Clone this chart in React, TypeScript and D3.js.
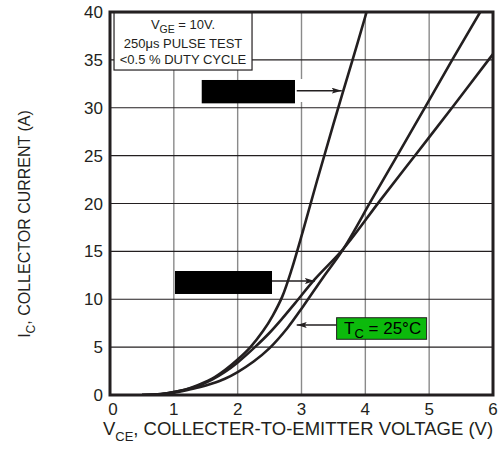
import React from "react";
import * as d3 from "d3";

const W = 503;
const H = 449;

// Vce (V) vs Ic (A) for three curves
const steepV = [0.5, 0.8, 1.0, 1.2, 1.4, 1.6, 1.8, 2.0, 2.2, 2.4, 2.55, 2.7, 2.85, 3.03, 3.24, 3.5, 3.8, 4.02];
const steepI = [0, 0.1, 0.3, 0.6, 1.1, 1.7, 2.6, 3.7, 5.0, 6.7, 8.3, 10.3, 13.2, 17.3, 22.3, 28.3, 35, 40];

const midV = [0.5, 0.8, 1.0, 1.2, 1.4, 1.6, 1.8, 2.0, 2.27, 2.5, 2.7, 2.9, 3.21, 3.66, 4.23, 4.8, 5.37, 5.93, 6.0];
const midI = [0, 0.1, 0.3, 0.6, 1.0, 1.6, 2.4, 3.4, 5.0, 6.5, 8.0, 9.6, 12.1, 15.3, 20.3, 25.2, 30.1, 35.0, 35.6];

const t25V = [0.5, 0.8, 1.0, 1.2, 1.4, 1.6, 1.8, 2.0, 2.25, 2.5, 2.78, 3.03, 3.33, 3.66, 4.1, 4.5, 4.94, 5.37, 5.8];
const t25I = [0, 0.08, 0.25, 0.5, 0.8, 1.2, 1.7, 2.4, 3.5, 4.9, 7.0, 9.3, 12.2, 15.3, 20.4, 25.0, 30.1, 35.1, 40.0];

const xTicks = [0, 1, 2, 3, 4, 5, 6];
const yTicks = [0, 5, 10, 15, 20, 25, 30, 35, 40];

const FONT = "'Liberation Sans', Arial, Helvetica, sans-serif";

export default function App() {
  const x = d3.scaleLinear().domain([0, 6]).range([110, 493]);
  const y = d3.scaleLinear().domain([0, 40]).range([395, 12]);

  const line = d3
    .line<[number, number]>()
    .x((d) => x(d[0]))
    .y((d) => y(d[1]))
    .curve(d3.curveCatmullRom.alpha(0.5));

  const zip = (a: number[], b: number[]) => a.map((v, i) => [v, b[i]] as [number, number]);
  const curves = [zip(steepV, steepI), zip(midV, midI), zip(t25V, t25I)];

  const ink = "#231f20";
  const bx0 = x(0.063);
  const bx1 = x(2.225);

  return (
    <svg
      width={W}
      height={H}
      style={{ position: "absolute", left: 0, top: 0, background: "#fff" }}
      fontFamily={FONT}
    >
      <defs>
        <marker id="arr" viewBox="0 0 10 6" refX="10" refY="3" markerWidth="10" markerHeight="6" markerUnits="userSpaceOnUse" orient="auto">
          <path d="M0,0 L10,3 L0,6 L2,3 Z" fill={ink} />
        </marker>
        <clipPath id="plot">
          <rect x={x(0)} y={y(40)} width={x(6) - x(0)} height={y(0) - y(40)} />
        </clipPath>
      </defs>

      {/* grid */}
      {xTicks.map((t) => (
        <line key={"gx" + t} x1={x(t)} x2={x(t)} y1={y(0)} y2={y(40)} stroke="#8a8a8a" strokeWidth={1.4} />
      ))}
      {yTicks.map((t) => (
        <line key={"gy" + t} x1={x(0)} x2={x(6)} y1={y(t)} y2={y(t)} stroke={ink} strokeWidth={1.1} />
      ))}

      {/* white gap behind arrow on gridline */}
      <rect x={x(2.93)} y={y(33.0)} width={9} height={y(30.6) - y(33.0)} fill="#fff" />

      {/* curves */}
      <g clipPath="url(#plot)">
        {curves.map((c, i) => (
          <path key={i} d={line(c) || ""} fill="none" stroke={ink} strokeWidth={2.6} strokeLinejoin="round" />
        ))}
      </g>

      {/* frame */}
      <rect x={x(0)} y={y(40)} width={x(6) - x(0)} height={y(0) - y(40)} fill="none" stroke={ink} strokeWidth={3} />

      {/* condition box */}
      <rect x={bx0} y={y(39.9)} width={bx1 - bx0} height={y(33.94) - y(39.9)} fill="#fff" stroke={ink} strokeWidth={1.2} />
      <text x={(bx0 + bx1) / 2} y={29} fontSize={13} textAnchor="middle" fill={ink}>
        V<tspan fontSize={10.5} dy={4}>GE</tspan>
        <tspan dy={-4}> = 10V.</tspan>
      </text>
      <text x={(bx0 + bx1) / 2} y={48} fontSize={13} textAnchor="middle" fill={ink}>
        250μs PULSE TEST
      </text>
      <text x={(bx0 + bx1) / 2} y={64} fontSize={13} textAnchor="middle" fill={ink}>
        {"<0.5 % DUTY CYCLE"}
      </text>

      {/* redacted label 1 */}
      <rect x={x(1.437)} y={y(32.9)} width={x(2.898) - x(1.437)} height={y(30.46) - y(32.9)} fill="#000" />
      <line x1={x(2.925)} x2={x(3.63)} y1={y(31.78)} y2={y(31.78)} stroke={ink} strokeWidth={1.4} markerEnd="url(#arr)" />

      {/* redacted label 2 */}
      <rect x={x(1.018)} y={y(12.95)} width={x(2.538) - x(1.018)} height={y(10.55) - y(12.95)} fill="#000" />
      <line x1={x(2.538)} x2={x(3.21)} y1={y(11.9)} y2={y(11.9)} stroke={ink} strokeWidth={1.4} markerEnd="url(#arr)" />

      {/* Tc label */}
      <line x1={x(3.55)} x2={x(2.925)} y1={y(7.31)} y2={y(7.31)} stroke={ink} strokeWidth={1.4} markerEnd="url(#arr)" />
      <rect x={x(3.55)} y={y(8.07)} width={x(4.96) - x(3.55)} height={y(5.82) - y(8.07)} fill="#0cba0c" stroke={ink} strokeWidth={1} />
      <text x={(x(3.55) + x(4.96)) / 2 + 1} y={y(5.82) - 5} fontSize={17} textAnchor="middle" fill="#000">
        T<tspan fontSize={13} dy={4}>C</tspan>
        <tspan dy={-4}> = 25°C</tspan>
      </text>

      {/* tick labels */}
      {xTicks.map((t) => (
        <text key={"tx" + t} x={x(t) + (t === 0 ? 3 : 0)} y={415} fontSize={17} textAnchor="middle" fill={ink}>
          {t}
        </text>
      ))}
      {yTicks.map((t) => (
        <text key={"ty" + t} x={103} y={y(t) + 6} fontSize={17} textAnchor="end" fill={ink}>
          {t}
        </text>
      ))}

      {/* axis titles */}
      <text x={298} y={435} fontSize={18.5} textAnchor="middle" fill={ink}>
        V<tspan fontSize={13} dy={6}>CE</tspan>
        <tspan dy={-6}>, COLLECTER-TO-EMITTER VOLTAGE (V)</tspan>
      </text>
      <text transform={`translate(30,224) rotate(-90)`} fontSize={16} textAnchor="middle" fill={ink}>
        I<tspan fontSize={12} dy={5}>C</tspan>
        <tspan dy={-5}>, COLLECTOR CURRENT (A)</tspan>
      </text>
    </svg>
  );
}
